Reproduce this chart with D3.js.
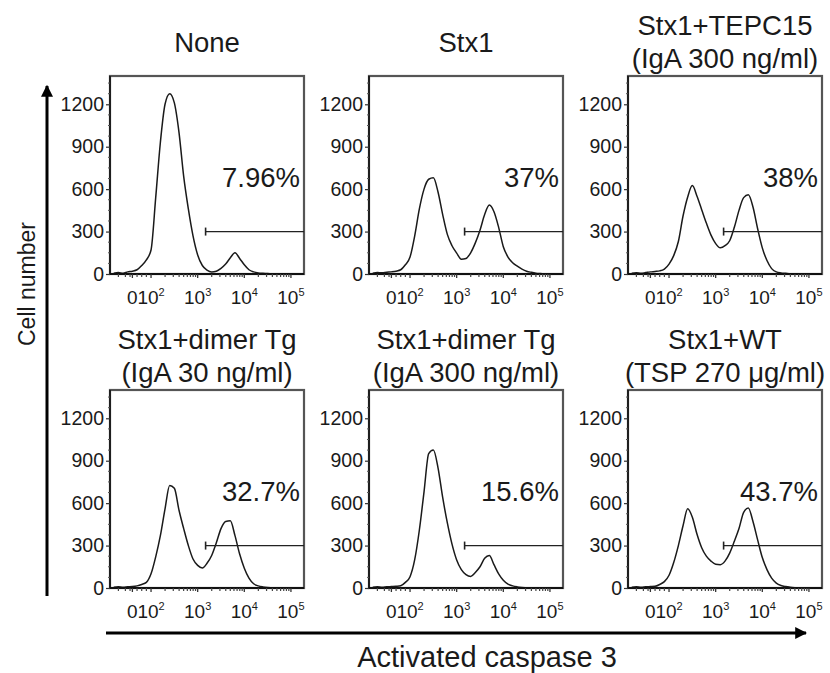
<!DOCTYPE html>
<html><head><meta charset="utf-8">
<script src="https://cdn.jsdelivr.net/npm/d3@7"></script>
<style>body{margin:0;background:#fff;} svg{display:block;font-family:"Liberation Sans",Arial,sans-serif;}</style>
</head><body><svg id="c" width="830" height="673"></svg>
<script>
// ---- data ----
const panelTitles = [["None"],["Stx1"],["Stx1+TEPC15","(IgA 300 ng/ml)"],["Stx1+dimer Tg","(IgA 30 ng/ml)"],["Stx1+dimer Tg","(IgA 300 ng/ml)"],["Stx1+WT","(TSP 270 μg/ml)"]];
const percentLabels = ["7.96%","37%","38%","32.7%","15.6%","43.7%"];
// fluorescence bins, in log10 display units
const logBins = [1.2,1.3,1.4,1.5,1.6,1.7,1.8,1.9,2.0,2.1,2.2,2.3,2.4,2.5,2.6,2.7,2.8,2.9,3.0,3.1,3.2,3.3,3.4,3.5,3.6,3.7,3.8,3.9,4.0,4.1,4.2,4.3,4.4,4.5,4.6,4.7,4.8,4.9,5.0,5.1,5.2];
const countsNone    = [5,10,5,15,20,30,60,100,170,540, 930,1200,1275,1210,1000,690,460,270,135,60, 28,15,20,40,70,115,150,110,65,30, 15,8,5,3,2,0,0,0,0,0, 0];
const countsStx1    = [5,10,8,12,15,20,30,65,120,270, 460,600,670,680,580,420,280,200,148,105, 110,150,220,310,420,487,440,330,193,120, 80,55,35,20,12,6,3,0,0,0, 0];
const countsTEPC15  = [5,8,5,10,15,18,22,35,70,130, 230,410,545,625,550,455,360,275,215,185, 200,235,330,450,540,560,474,320,185,95, 38,15,8,5,2,0,0,0,0,0, 0];
const countsDimer30 = [5,8,5,8,10,15,25,40,100,220, 370,560,725,705,550,420,300,205,160,142, 175,230,320,420,470,475,370,240,140,70, 30,15,8,4,2,0,0,0,0,0, 0];
const countsDimer300= [5,8,5,8,10,12,16,40,80,200, 410,680,950,975,850,640,460,310,198,130, 95,82,110,150,210,230,165,100,55,28, 15,8,4,2,0,0,0,0,0,0, 0];
const countsWT      = [5,8,5,8,10,12,25,45,90,180, 300,440,560,500,380,285,225,190,168,165, 190,247,330,420,535,565,470,340,215,130, 70,35,18,10,5,2,0,0,0,0, 0];
const panelCounts = [countsNone,countsStx1,countsTEPC15,countsDimer30,countsDimer300,countsWT];
const yTickValues = [0,300,600,900,1200];
const xTickValues = [1.6,2,3,4,5];
const xTickLabels = [["0",""],["10","2"],["10","3"],["10","4"],["10","5"]];
const gateStart = 3.17, gateLevel = 300;
const yAxisTitle = "Cell number", xAxisTitle = "Activated caspase 3";

// ---- layout ----
const svg = d3.select("#c");
const W = 194, H = 198;
const lefts = [110, 369, 628], tops = [76, 390];
const x = d3.scaleLinear().domain([1.12, 5.28]).range([0, W]);
const y = d3.scaleLinear().domain([0, 1400]).range([H, 0]);
const line = d3.line().x((d,i)=>x(logBins[i])).y(d=>y(d)).curve(d3.curveMonotoneX);
const minorX = [];
[2,3,4].forEach(dec=>[2,3,4,5,6,7,8,9].forEach(k=>minorX.push(dec+Math.log10(k))));
[1.3,1.45,1.55,1.7,1.8,1.9].forEach(v=>minorX.push(v));
const minorY = d3.range(75, 1400, 75).filter(v=>v%300!==0);

panelCounts.forEach((counts, p) => {
  const col = p % 3, row = Math.floor(p / 3);
  const g = svg.append("g").attr("transform", `translate(${lefts[col]},${tops[row]})`);
  // frame
  g.append("rect").attr("x",0).attr("y",0).attr("width",W).attr("height",H)
    .attr("fill","none").attr("stroke","#555").attr("stroke-width",2.2);
  // histogram
  g.append("path").datum(counts).attr("d", line).attr("fill","none")
    .attr("stroke","#1a1a1a").attr("stroke-width",1.5);
  // gate
  g.append("line").attr("x1",x(gateStart)).attr("x2",W).attr("y1",y(gateLevel)).attr("y2",y(gateLevel))
    .attr("stroke","#222").attr("stroke-width",1.3);
  g.append("line").attr("x1",x(gateStart)).attr("x2",x(gateStart)).attr("y1",y(gateLevel)-4).attr("y2",y(gateLevel)+4)
    .attr("stroke","#222").attr("stroke-width",1.6);
  // y axis
  const ya = g.append("g").call(d3.axisLeft(y).tickValues(yTickValues).tickSize(4).tickPadding(2).tickFormat(d3.format("d")));
  ya.select(".domain").attr("stroke","#111").attr("stroke-width",1.6).attr("d",`M0,${H}V0`);
  ya.selectAll("text").attr("font-size",19.5).attr("fill","#1a1a1a").attr("font-family","Liberation Sans, Arial, sans-serif");
  ya.selectAll(".tick line").attr("stroke","#333").attr("stroke-width",1.2);
  g.selectAll(".ymin").data(minorY).join("line").attr("class","ymin")
    .attr("x1",-2).attr("x2",0).attr("y1",d=>y(d)).attr("y2",d=>y(d)).attr("stroke","#555").attr("stroke-width",1);
  // x axis
  g.append("line").attr("x1",0).attr("x2",W).attr("y1",H).attr("y2",H).attr("stroke","#111").attr("stroke-width",1.8);
  g.selectAll(".xmin").data(minorX).join("line").attr("class","xmin")
    .attr("x1",d=>x(d)).attr("x2",d=>x(d)).attr("y1",H).attr("y2",H+3).attr("stroke","#444").attr("stroke-width",1.2);
  g.selectAll(".xmaj").data(xTickValues).join("line").attr("class","xmaj")
    .attr("x1",d=>x(d)).attr("x2",d=>x(d)).attr("y1",H).attr("y2",H+4).attr("stroke","#333").attr("stroke-width",1.3);
  const xl = g.selectAll(".xlab").data(xTickValues).join("text").attr("class","xlab")
    .attr("x",d=>x(d)).attr("y",H+30).attr("text-anchor","middle").attr("font-size",19).attr("fill","#1a1a1a");
  xl.each(function(d,i){
    const t = d3.select(this);
    t.append("tspan").text(xTickLabels[i][0]);
    if (xTickLabels[i][1]) t.append("tspan").attr("font-size",11).attr("dy",-8).text(xTickLabels[i][1]);
  });
  // percent
  g.append("text").attr("x",W-4).attr("y",y(615)).attr("text-anchor","end")
    .attr("font-size",27.5).attr("fill","#1a1a1a").text(percentLabels[p]);
  // title
  const lines = panelTitles[p];
  const cx = W/2;
  if (lines.length === 1) {
    g.append("text").attr("x",cx).attr("y",-24).attr("text-anchor","middle").attr("font-size",27.5).attr("fill","#1a1a1a").text(lines[0]);
  } else {
    g.append("text").attr("x",cx).attr("y",-41).attr("text-anchor","middle").attr("font-size",27.5).attr("fill","#1a1a1a").text(lines[0]);
    g.append("text").attr("x",cx).attr("y",-8).attr("text-anchor","middle").attr("font-size",27.5).attr("fill","#1a1a1a").text(lines[1]);
  }
});

// axis arrows
const defs = svg.append("defs");
defs.append("marker").attr("id","arr").attr("viewBox","0 0 10 10").attr("refX",9).attr("refY",5)
  .attr("markerWidth",4).attr("markerHeight",4).attr("orient","auto")
  .append("path").attr("d","M0,0L10,5L0,10Z").attr("fill","#000");
svg.append("line").attr("x1",47).attr("y1",596).attr("x2",47).attr("y2",86)
  .attr("stroke","#000").attr("stroke-width",3).attr("marker-end","url(#arr)");
svg.append("line").attr("x1",106).attr("y1",633).attr("x2",806).attr("y2",633)
  .attr("stroke","#000").attr("stroke-width",3).attr("marker-end","url(#arr)");
svg.append("text").attr("transform","translate(35,284) rotate(-90)").attr("text-anchor","middle")
  .attr("font-size",23).attr("fill","#1a1a1a").text(yAxisTitle);
svg.append("text").attr("x",487).attr("y",667).attr("text-anchor","middle")
  .attr("font-size",29).attr("fill","#1a1a1a").text(xAxisTitle);
</script></body></html>
